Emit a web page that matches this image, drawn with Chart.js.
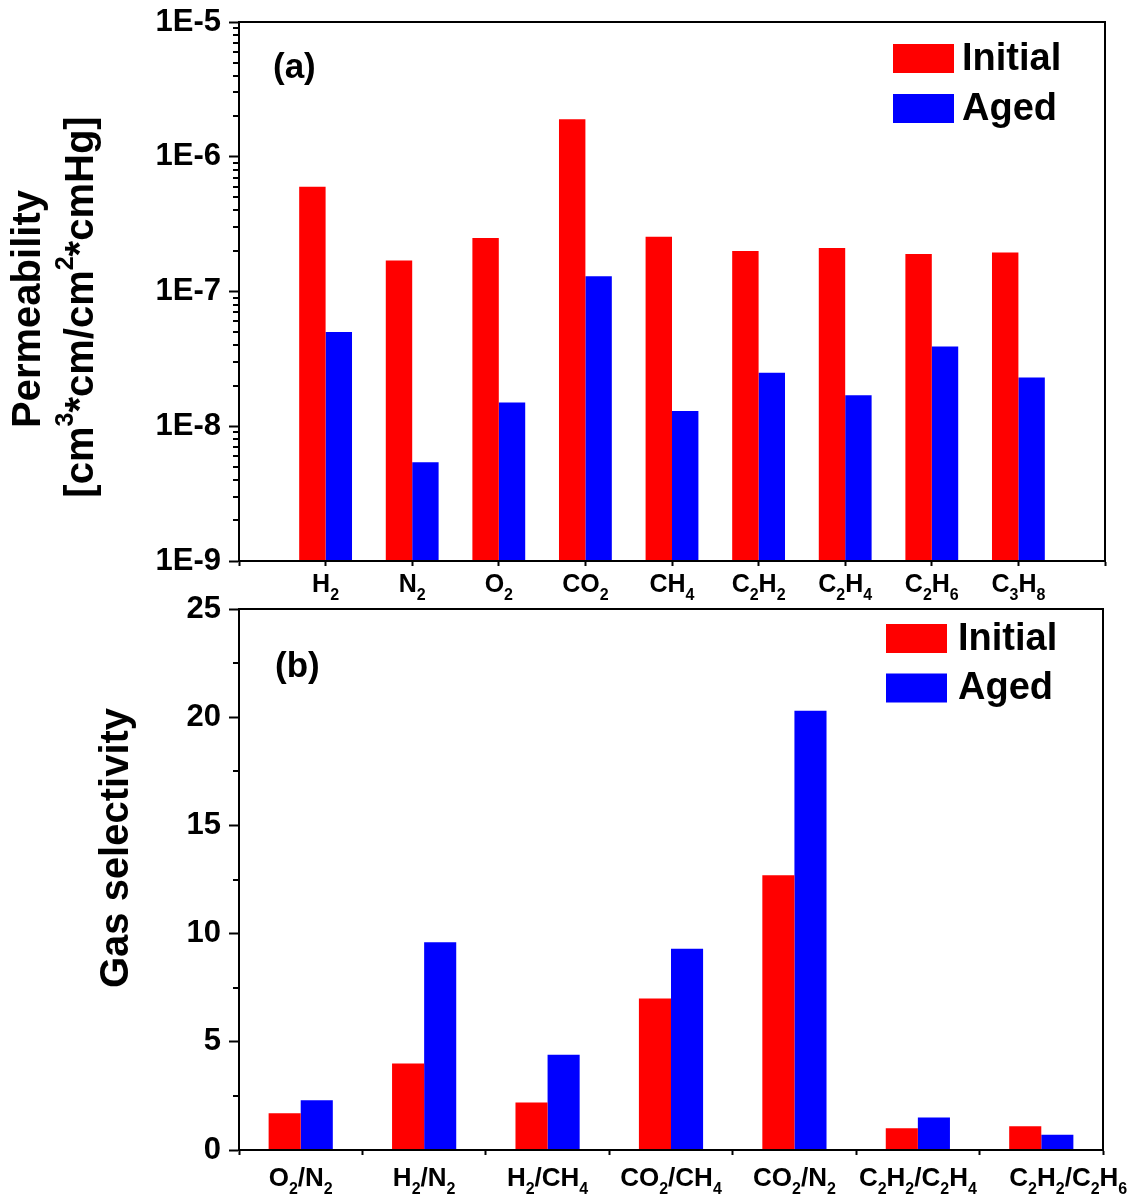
<!DOCTYPE html>
<html>
<head>
<meta charset="utf-8">
<script src="https://cdn.jsdelivr.net/npm/chart.js@4.4.1/dist/chart.umd.min.js"></script>
<style>
  body { margin: 0; background: #fff; }
  .panel { position: absolute; left: 0; }
  #permChart { top: 0; }
  #selChart { top: 590px; }
</style>
</head>
<body>
<canvas id="permChart" class="panel" width="1137" height="600"></canvas>
<canvas id="selChart" class="panel" width="1137" height="612"></canvas>
<script>
// Panel (a): single gas permeability
const gases = ["H2", "N2", "O2", "CO2", "CH4", "C2H2", "C2H4", "C2H6", "C3H8"];
const permInitial = [6.0e-7, 1.7e-7, 2.5e-7, 1.9e-6, 2.55e-7, 2.0e-7, 2.1e-7, 1.9e-7, 1.95e-7];
const permAged = [5.0e-8, 5.4e-9, 1.5e-8, 1.3e-7, 1.3e-8, 2.5e-8, 1.7e-8, 3.9e-8, 2.3e-8];
const permTicks = [1e-9, 1e-8, 1e-7, 1e-6, 1e-5];

// Panel (b): ideal selectivity of gas pairs
const pairs = ["O2/N2", "H2/N2", "H2/CH4", "CO2/CH4", "CO2/N2", "C2H2/C2H4", "C2H2/C2H6"];
const selInitial = [1.7, 4.0, 2.2, 7.0, 12.7, 1.0, 1.1];
const selAged = [2.3, 9.6, 4.4, 9.3, 20.3, 1.5, 0.7];
const selTicks = [0, 5, 10, 15, 20, 25];

const seriesNames = ["Initial", "Aged"];
const seriesColors = ["#ff0000", "#0000ff"];

const FONT = "'Liberation Sans', Arial, sans-serif";
Chart.defaults.font.family = FONT;
Chart.defaults.font.weight = "bold";
Chart.defaults.color = "#000";

// split "C2H6" into text runs, digits become subscripts
function formulaRuns(label) {
    return label.match(/\d+|\D+/g).map((t) => ({
        text: t,
        shift: /\d/.test(t) ? "sub" : null,
    }));
}

// draw runs of text with sub/superscripts, centred on x
function drawRich(ctx, runs, x, y, size) {
    const small = Math.round(size * 0.62);
    const widths = runs.map((r) => {
        ctx.font = "bold " + (r.shift ? small : size) + "px " + FONT;
        return ctx.measureText(r.text).width;
    });
    const total = widths.reduce((a, b) => a + b, 0);
    let cx = x - total / 2;
    runs.forEach((r, i) => {
        ctx.font = "bold " + (r.shift ? small : size) + "px " + FONT;
        let dy = 0;
        if (r.shift === "sub") dy = size * 0.3;
        if (r.shift === "sup") dy = -size * 0.4;
        ctx.fillText(r.text, cx, y + dy);
        cx += widths[i];
    });
}

// frame, minor ticks, formula labels, titles and legend for one panel
function makeDecor(cfg) {
    return {
        id: "decor",
        afterDraw(chart) {
            const ctx = chart.ctx;
            const area = chart.chartArea;
            const xScale = chart.scales.x;
            const yScale = chart.scales.y;
            ctx.save();

            ctx.strokeStyle = "#000";
            ctx.lineWidth = 2;
            ctx.strokeRect(area.left, area.top, area.right - area.left, area.bottom - area.top);

            cfg.minorTicks.forEach((v) => {
                const y = Math.round(yScale.getPixelForValue(v));
                ctx.beginPath();
                ctx.moveTo(area.left - 6, y);
                ctx.lineTo(area.left, y);
                ctx.stroke();
            });

            ctx.fillStyle = "#000";
            ctx.textAlign = "left";
            ctx.textBaseline = "alphabetic";
            chart.data.labels.forEach((label, i) => {
                if (!label) return;
                const dx = (cfg.labelShift && cfg.labelShift[label]) || 0;
                drawRich(ctx, formulaRuns(label), xScale.getPixelForTick(i) + dx, area.bottom + cfg.labelOffset, cfg.labelSize);
            });

            ctx.textBaseline = "middle";
            cfg.titleLines.forEach((line) => {
                ctx.save();
                ctx.translate(line.x, line.y);
                ctx.rotate(-Math.PI / 2);
                drawRich(ctx, line.runs, 0, 0, cfg.titleSize);
                ctx.restore();
            });

            ctx.font = "bold 35px " + FONT;
            ctx.fillText(cfg.letter.text, cfg.letter.x, cfg.letter.y);

            const lg = cfg.legend;
            chart.data.datasets.forEach((ds, i) => {
                const top = lg.y + i * lg.rowGap;
                ctx.fillStyle = ds.backgroundColor;
                ctx.fillRect(lg.x, top, lg.boxW, lg.boxH);
                ctx.fillStyle = "#000";
                ctx.font = "bold 38px " + FONT;
                ctx.fillText(ds.label, lg.x + lg.boxW + lg.textGap, top + lg.boxH / 2 + 1);
            });
            ctx.restore();
        },
    };
}

function makeDatasets(initial, aged, catPct) {
    return [initial, aged].map((data, i) => ({
        label: seriesNames[i],
        data: data,
        backgroundColor: seriesColors[i],
        borderWidth: 0,
        categoryPercentage: catPct,
        barPercentage: 1,
    }));
}

const axisGrid = {
    display: true,
    drawOnChartArea: false,
    drawTicks: true,
    color: "#000",
    tickWidth: 2,
};

// fixed axis widths so both plots share the same left edge
function fixY(scale) {
    scale.width = 239;
    scale.paddingTop = 0;
    scale.paddingBottom = 0;
}

// panel (a): pad an empty slot at each end so gases sit on 1..9
const permLabels = ["", ...gases, ""];
const permMinor = [];
permTicks.slice(0, -1).forEach((d) => {
    for (let m = 2; m <= 9; m++) permMinor.push(d * m);
});

new Chart(document.getElementById("permChart"), {
    type: "bar",
    data: {
        labels: permLabels,
        datasets: makeDatasets([null, ...permInitial, null], [null, ...permAged, null], 0.61),
    },
    options: {
        responsive: false,
        animation: false,
        layout: { padding: { top: 22, right: 32, left: 0, bottom: 0 } },
        plugins: { legend: { display: false }, tooltip: { enabled: false } },
        scales: {
            x: {
                offset: false,
                grid: { ...axisGrid, offset: false, tickLength: 5 },
                border: { display: true, color: "#000", width: 2 },
                ticks: { display: false },
                afterFit: (scale) => { scale.height = 39; },
            },
            y: {
                type: "logarithmic",
                min: permTicks[0],
                max: permTicks[permTicks.length - 1],
                grid: { ...axisGrid, tickLength: 10 },
                border: { display: true, color: "#000", width: 2 },
                afterBuildTicks: (scale) => {
                    scale.ticks = permTicks.map((v) => ({ value: v, major: true }));
                },
                ticks: {
                    padding: 8,
                    font: { size: 31, weight: "bold" },
                    callback: (v) => "1E" + Math.round(Math.log10(v)),
                },
                afterFit: fixY,
            },
        },
    },
    plugins: [makeDecor({
        minorTicks: permMinor,
        labelOffset: 31,
        labelSize: 25,
        titleSize: 40,
        titleLines: [
            { x: 29, y: 309, runs: [{ text: "Permeability" }] },
            {
                x: 82,
                y: 307,
                runs: [
                    { text: "[cm" },
                    { text: "3", shift: "sup" },
                    { text: "*cm/cm" },
                    { text: "2", shift: "sup" },
                    { text: "*cmHg]" },
                ],
            },
        ],
        letter: { text: "(a)", x: 273, y: 68 },
        legend: { x: 893, y: 44, boxW: 61, boxH: 29, rowGap: 50, textGap: 8 },
    })],
});

const selMinor = selTicks.slice(0, -1).map((v) => v + 2.5);

new Chart(document.getElementById("selChart"), {
    type: "bar",
    data: { labels: pairs, datasets: makeDatasets(selInitial, selAged, 0.52) },
    options: {
        responsive: false,
        animation: false,
        layout: { padding: { top: 19, right: 34, left: 0, bottom: 0 } },
        plugins: { legend: { display: false }, tooltip: { enabled: false } },
        scales: {
            x: {
                grid: { ...axisGrid, tickLength: 5 },
                border: { display: true, color: "#000", width: 2 },
                ticks: { display: false },
                afterFit: (scale) => { scale.height = 52; },
            },
            y: {
                min: selTicks[0],
                max: selTicks[selTicks.length - 1],
                grid: { ...axisGrid, tickLength: 10 },
                border: { display: true, color: "#000", width: 2 },
                afterBuildTicks: (scale) => {
                    scale.ticks = selTicks.map((v) => ({ value: v }));
                },
                ticks: {
                    padding: 8,
                    font: { size: 31, weight: "bold" },
                },
                afterFit: fixY,
            },
        },
    },
    plugins: [makeDecor({
        minorTicks: selMinor,
        labelOffset: 36,
        labelSize: 26,
        labelShift: { "C2H2/C2H6": 27 },
        titleSize: 40,
        titleLines: [{ x: 117, y: 258, runs: [{ text: "Gas selectivity" }] }],
        letter: { text: "(b)", x: 275, y: 77 },
        legend: { x: 886, y: 34, boxW: 61, boxH: 29, rowGap: 49.5, textGap: 11 },
    })],
});
</script>
</body>
</html>
